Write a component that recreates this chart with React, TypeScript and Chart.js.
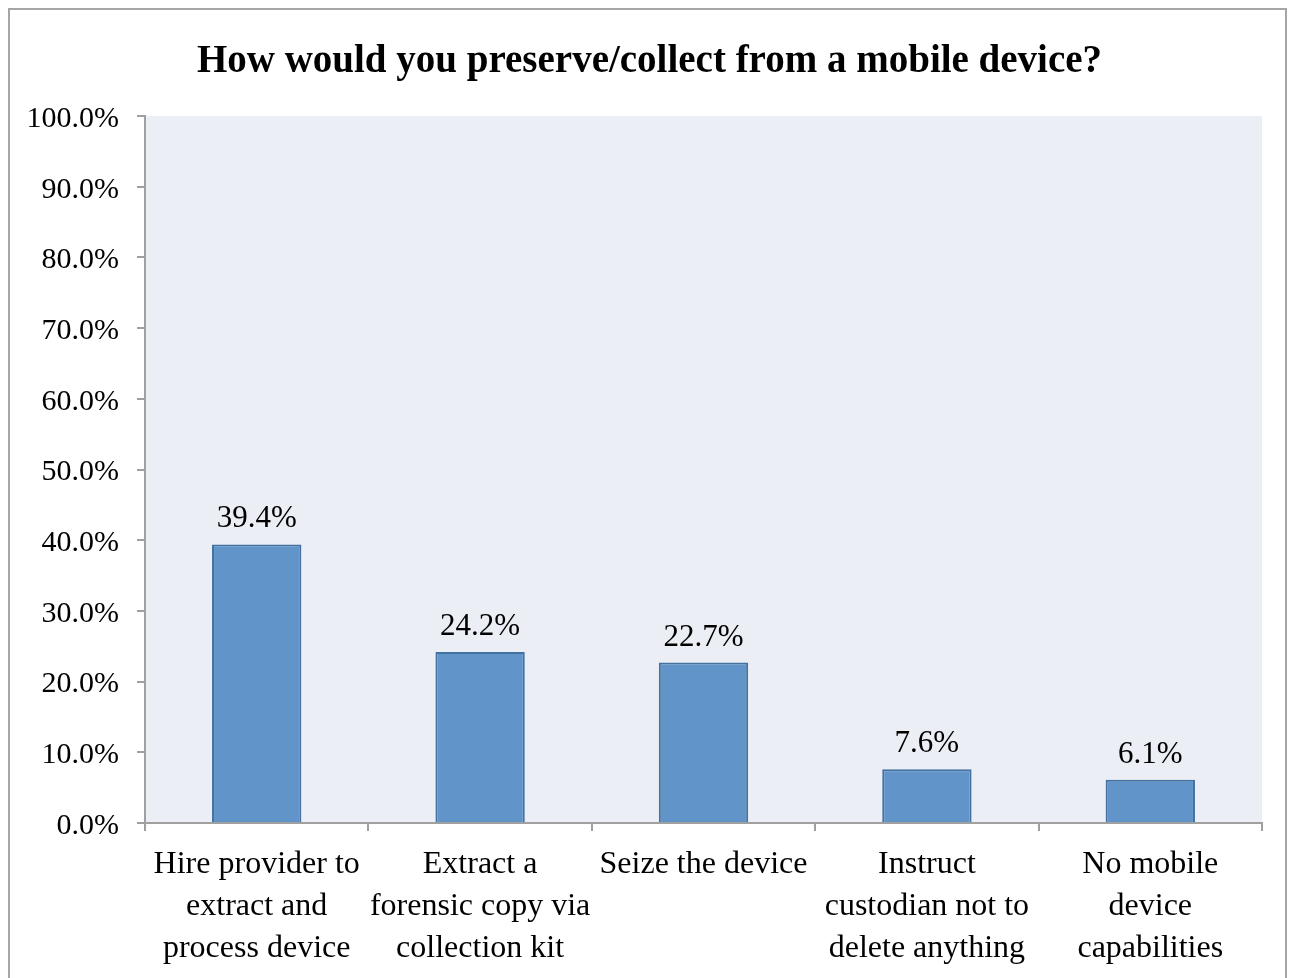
import React, { useEffect, useRef } from "react";
import { Chart, registerables } from "chart.js";

Chart.register(...registerables);

const TITLE = "How would you preserve/collect from a mobile device?";
const categories: string[][] = [
  ["Hire provider to", "extract and", "process device"],
  ["Extract a", "forensic copy via", "collection kit"],
  ["Seize the device"],
  ["Instruct", "custodian not to", "delete anything"],
  ["No mobile", "device", "capabilities"],
];
const values: number[] = [39.4, 24.2, 22.7, 7.6, 6.1];
const yMin = 0;
const yMax = 100;
const yStep = 10;

const FONT = "'Liberation Serif', 'DejaVu Serif', serif";

const bgPlugin = {
  id: "plotBg",
  beforeDraw(chart: any) {
    const { ctx, chartArea } = chart;
    ctx.save();
    ctx.fillStyle = "#EBEEF4";
    ctx.fillRect(chartArea.left, chartArea.top, chartArea.right - chartArea.left, chartArea.bottom - chartArea.top);
    ctx.restore();
  },
};

const titlePlugin = {
  id: "customTitle",
  afterDraw(chart: any) {
    const { ctx, width } = chart;
    ctx.save();
    ctx.font = `bold 39px ${FONT}`;
    ctx.fillStyle = "#000";
    ctx.textAlign = "center";
    ctx.textBaseline = "alphabetic";
    ctx.fillText(TITLE, width / 2 + 2, 62);
    ctx.restore();
  },
};

const labelPlugin = {
  id: "valLabels",
  afterDatasetsDraw(chart: any) {
    const { ctx } = chart;
    const meta = chart.getDatasetMeta(0);
    ctx.save();
    ctx.font = `31px ${FONT}`;
    ctx.fillStyle = "#000";
    ctx.textAlign = "center";
    ctx.textBaseline = "alphabetic";
    meta.data.forEach((bar: any, i: number) => {
      ctx.fillText(values[i].toFixed(1) + "%", bar.x, bar.y - 17);
    });
    ctx.restore();
  },
};

export default function App() {
  const ref = useRef<HTMLCanvasElement | null>(null);
  useEffect(() => {
    if (!ref.current) return;
    const chart = new Chart(ref.current, {
      type: "bar",
      data: {
        labels: categories as any,
        datasets: [
          {
            data: values,
            backgroundColor: "#6195C9",
            borderColor: "#4372A2",
            borderWidth: 2,
            barPercentage: 0.4,
            categoryPercentage: 1,
          },
        ],
      },
      options: {
        animation: false,
        responsive: false,
        maintainAspectRatio: false,
        layout: { padding: { left: 0, right: 23, top: 106, bottom: 0 } },
        plugins: {
          legend: { display: false },
          tooltip: { enabled: false },
          title: { display: false },
        },
        scales: {
          x: {
            grid: { drawOnChartArea: false, drawTicks: true, tickLength: 8, color: "#A0A0A0", lineWidth: 2, offset: true },
            border: { color: "#A0A0A0", width: 2 },
            ticks: {
              color: "#000",
              font: { family: FONT, size: 32, lineHeight: 1.31 },
              maxRotation: 0,
              minRotation: 0,
              autoSkip: false,
              padding: 13,
            },
            afterFit(scale: any) {
              scale.height = 155;
            },
          },
          y: {
            min: yMin,
            max: yMax,
            grid: { drawOnChartArea: false, drawTicks: true, tickLength: 8, color: "#A0A0A0", lineWidth: 2 },
            border: { color: "#A0A0A0", width: 2 },
            ticks: {
              stepSize: yStep,
              color: "#000",
              font: { family: FONT, size: 30 },
              padding: 18,
              labelOffset: 3,
              callback: (v: any) => Number(v).toFixed(1) + "%",
            },
            afterFit(scale: any) {
              scale.width = 135;
            },
          },
        },
      },
      plugins: [bgPlugin, labelPlugin, titlePlugin],
    });
    return () => chart.destroy();
  }, []);
  return (
    <div
      style={{
        position: "fixed",
        left: 8,
        top: 8,
        width: 1275,
        height: 990,
        border: "2px solid #A6A6A6",
        background: "#fff",
      }}
    >
      <canvas ref={ref} width={1275} height={968} style={{ display: "block" }} />
    </div>
  );
}
